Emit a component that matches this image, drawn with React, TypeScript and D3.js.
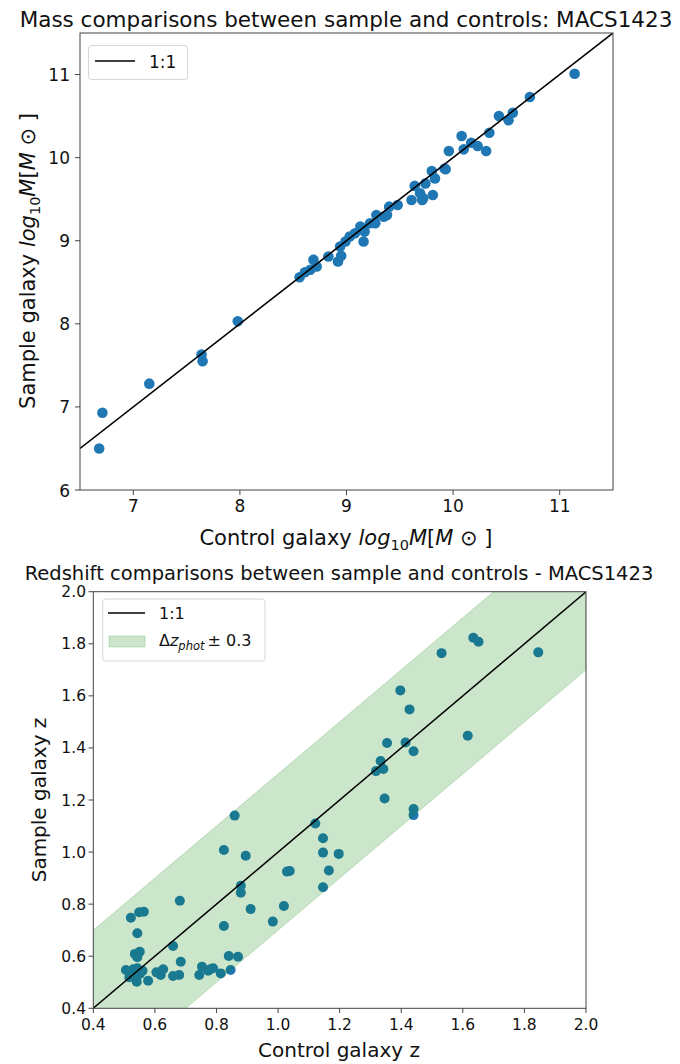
import React from "react";
import * as d3 from "d3";

// Mass comparison: [control log10 M, sample log10 M]
const massControl = [6.68, 6.71, 7.15, 7.64, 7.65, 7.98, 8.56, 8.61, 8.66, 8.69, 8.72, 8.83, 8.92, 8.95, 8.94, 8.99, 9.03, 9.08, 9.16, 9.17, 9.13, 9.22, 9.27, 9.28, 9.35, 9.38, 9.40, 9.48, 9.61, 9.71, 9.72, 9.69, 9.81, 9.64, 9.74, 9.83, 9.80, 9.93, 9.92, 9.96, 10.10, 10.08, 10.17, 10.23, 10.31, 10.34, 10.43, 10.52, 10.56, 10.72, 11.14];
const massSample = [6.50, 6.93, 7.28, 7.63, 7.55, 8.03, 8.56, 8.62, 8.65, 8.77, 8.69, 8.81, 8.75, 8.82, 8.93, 8.99, 9.05, 9.09, 8.99, 9.11, 9.17, 9.21, 9.21, 9.31, 9.29, 9.31, 9.41, 9.43, 9.49, 9.49, 9.51, 9.57, 9.55, 9.66, 9.69, 9.75, 9.84, 9.86, 9.87, 10.08, 10.10, 10.26, 10.18, 10.14, 10.08, 10.30, 10.50, 10.45, 10.54, 10.73, 11.01];

// Redshift comparison: [control z, sample z]
const zControl = [1.634, 1.651, 1.531, 1.845, 1.397, 1.427, 1.354, 1.414, 1.440, 1.616, 1.333, 1.318, 1.342, 1.346, 1.440, 1.440, 0.859, 1.121, 1.146, 1.146, 1.197, 0.824, 0.895, 1.038, 1.029, 1.165, 1.146, 0.879, 0.879, 0.911, 1.019, 0.983, 0.824, 0.681, 0.522, 0.549, 0.564, 0.543, 0.659, 0.535, 0.551, 0.543, 0.684, 0.840, 0.870, 0.506, 0.519, 0.530, 0.543, 0.560, 0.535, 0.517, 0.551, 0.541, 0.578, 0.605, 0.627, 0.619, 0.659, 0.679, 0.744, 0.753, 0.773, 0.789, 0.780, 0.814, 0.846];
const zSample = [1.823, 1.808, 1.764, 1.767, 1.621, 1.548, 1.419, 1.421, 1.387, 1.447, 1.350, 1.311, 1.319, 1.206, 1.165, 1.142, 1.140, 1.110, 1.053, 0.998, 0.993, 1.008, 0.986, 0.927, 0.925, 0.929, 0.865, 0.871, 0.844, 0.781, 0.793, 0.733, 0.716, 0.813, 0.748, 0.769, 0.771, 0.688, 0.639, 0.609, 0.617, 0.596, 0.579, 0.601, 0.598, 0.547, 0.534, 0.550, 0.554, 0.544, 0.528, 0.519, 0.532, 0.502, 0.506, 0.538, 0.550, 0.528, 0.524, 0.528, 0.528, 0.560, 0.544, 0.554, 0.550, 0.534, 0.547];

const massTicksX = [7, 8, 9, 10, 11];
const massTicksY = [6, 7, 8, 9, 10, 11];
const zTicks = [0.4, 0.6, 0.8, 1.0, 1.2, 1.4, 1.6, 1.8, 2.0];
const deltaZ = 0.3;

const FONT = "DejaVu Sans";
const C0 = "#1f77b4";
const SPINE = "#444";

export default function App() {
  // top chart
  const mx = d3.scaleLinear().domain([6.5, 11.5]).range([80, 613]);
  const my = d3.scaleLinear().domain([6, 11.5]).range([490, 33]);
  // bottom chart
  const zx = d3.scaleLinear().domain([0.4, 2.0]).range([93.3, 586]);
  const zy = d3.scaleLinear().domain([0.4, 2.0]).range([1008.3, 591.7]);

  const massLine = d3.line<number>().x((v) => mx(v)).y((v) => my(v))([6.5, 11.5]);
  const zLine = d3.line<number>().x((v) => zx(v)).y((v) => zy(v))([0.4, 2.0]);
  const band = d3
    .area<number>()
    .x((v) => zx(v))
    .y0((v) => zy(v - deltaZ))
    .y1((v) => zy(v + deltaZ))([0.4, 2.0]);

  return (
    <svg
      width={680}
      height={1064}
      style={{ position: "absolute", left: 0, top: 0, background: "#fff" }}
      fontFamily={FONT}
    >
      <defs>
        <clipPath id="clipM">
          <rect x={80} y={33} width={533} height={457} />
        </clipPath>
        <clipPath id="clipZ">
          <rect x={93.3} y={591.7} width={492.7} height={416.6} />
        </clipPath>
      </defs>

      {/* ===== Top chart ===== */}
      <text x={346} y={27} textAnchor="middle" fontSize={21.5} fill="#111">
        Mass comparisons between sample and controls: MACS1423
      </text>
      <g clipPath="url(#clipM)">
        {massControl.map((c, i) => (
          <circle key={i} cx={mx(c)} cy={my(massSample[i])} r={5.3} fill={C0} />
        ))}
        <path d={massLine ?? ""} stroke="#000" strokeWidth={1.6} fill="none" />
      </g>
      <rect x={80} y={33} width={533} height={457} fill="none" stroke={SPINE} strokeWidth={1} />
      {massTicksX.map((t) => (
        <g key={t}>
          <line x1={mx(t)} x2={mx(t)} y1={490} y2={495} stroke={SPINE} />
          <text x={mx(t)} y={512} textAnchor="middle" fontSize={17} fill="#111">
            {t}
          </text>
        </g>
      ))}
      {massTicksY.map((t) => (
        <g key={t}>
          <line x1={75} x2={80} y1={my(t)} y2={my(t)} stroke={SPINE} />
          <text x={70} y={my(t) + 6.5} textAnchor="end" fontSize={17} fill="#111">
            {t}
          </text>
        </g>
      ))}
      <text x={346} y={545} textAnchor="middle" fontSize={21} fill="#111">
        Control galaxy <tspan fontStyle="italic">log</tspan>
        <tspan fontSize={14.5} dy={4.5}>10</tspan>
        <tspan fontStyle="italic" dy={-4.5}>M</tspan>[<tspan fontStyle="italic">M</tspan> ⊙ ]
      </text>
      <text
        transform={`translate(35,${261}) rotate(-90)`}
        textAnchor="middle"
        fontSize={21}
        fill="#111"
      >
        Sample galaxy <tspan fontStyle="italic">log</tspan>
        <tspan fontSize={14.5} dy={4.5}>10</tspan>
        <tspan fontStyle="italic" dy={-4.5}>M</tspan>[<tspan fontStyle="italic">M</tspan> ⊙ ]
      </text>
      {/* legend top */}
      <rect x={88.5} y={45.5} width={99} height={34} rx={3} fill="#fff" fillOpacity={0.8} stroke="#d6d6d6" />
      <line x1={95} x2={135} y1={61} y2={61} stroke="#000" strokeWidth={1.6} />
      <text x={149} y={68} fontSize={17} fill="#111">
        1:1
      </text>

      {/* ===== Bottom chart ===== */}
      <text x={339} y={580} textAnchor="middle" fontSize={19.5} fill="#111">
        Redshift comparisons between sample and controls - MACS1423
      </text>
      <g clipPath="url(#clipZ)">
        {zControl.map((c, i) => (
          <circle key={i} cx={zx(c)} cy={zy(zSample[i])} r={5} fill={C0} />
        ))}
        <path d={band ?? ""} fill="green" fillOpacity={0.2} stroke="green" strokeOpacity={0.2} strokeWidth={1} />
        <path d={zLine ?? ""} stroke="#000" strokeWidth={1.5} fill="none" />
      </g>
      <rect x={93.3} y={591.7} width={492.7} height={416.6} fill="none" stroke={SPINE} strokeWidth={1} />
      {zTicks.map((t) => (
        <g key={"x" + t}>
          <line x1={zx(t)} x2={zx(t)} y1={1008.3} y2={1013} stroke={SPINE} />
          <text x={zx(t)} y={1030} textAnchor="middle" fontSize={15.5} fill="#111">
            {t.toFixed(1)}
          </text>
        </g>
      ))}
      {zTicks.map((t) => (
        <g key={"y" + t}>
          <line x1={88.5} x2={93.3} y1={zy(t)} y2={zy(t)} stroke={SPINE} />
          <text x={86} y={zy(t) + 5.5} textAnchor="end" fontSize={15.5} fill="#111">
            {t.toFixed(1)}
          </text>
        </g>
      ))}
      <text x={339} y={1057} textAnchor="middle" fontSize={20} fill="#111">
        Control galaxy z
      </text>
      <text
        transform={`translate(46,${800}) rotate(-90)`}
        textAnchor="middle"
        fontSize={20}
        fill="#111"
      >
        Sample galaxy z
      </text>
      {/* legend bottom */}
      <rect x={102.7} y={599} width={162.3} height={62} rx={3} fill="#fff" fillOpacity={0.8} stroke="#d6d6d6" />
      <line x1={108} x2={145} y1={613} y2={613} stroke="#000" strokeWidth={1.5} />
      <text x={159} y={619} fontSize={16} fill="#111">
        1:1
      </text>
      <rect x={109} y={636} width={36} height={11} fill="green" fillOpacity={0.2} stroke="green" strokeOpacity={0.2} />
      <text x={159} y={646} fontSize={16} fill="#111">
        Δ<tspan fontStyle="italic">z</tspan>
        <tspan fontStyle="italic" fontSize={11.5} dy={4}>phot</tspan>
        <tspan dy={-4} dx={3}>± 0.3</tspan>
      </text>
    </svg>
  );
}
